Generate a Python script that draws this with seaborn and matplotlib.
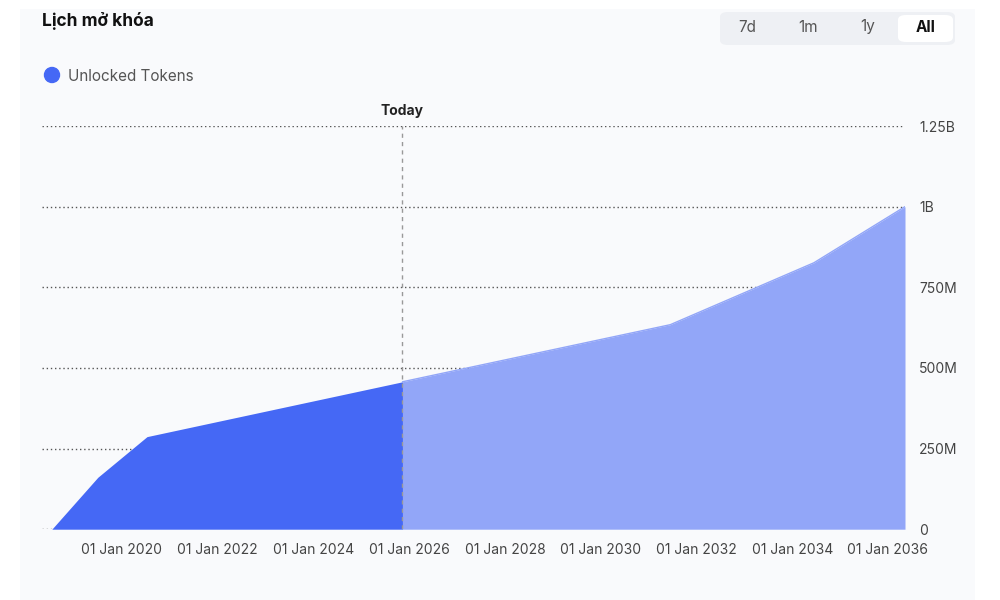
import matplotlib
matplotlib.use("Agg")
import matplotlib.pyplot as plt
import matplotlib.dates as mdates
import seaborn as sns
import pandas as pd
import numpy as np

dates = ["2018-07-15", "2019-07-01", "2020-07-10", "2025-11-10", "2031-06-15", "2034-06-15", "2036-05-10"]
unlocked = [0, 161e6, 287e6, 457e6, 634e6, 826e6, 1000e6]
today = "2025-11-10"
xtick_years = list(range(2020, 2037, 2))
ytick_vals = [0, 250e6, 500e6, 750e6, 1000e6, 1250e6]
ytick_labels = ["0", "250M", "500M", "750M", "1B", "1.25B"]

sns.set_theme(style="white")
plt.rcParams['font.family'] = ['Inter', 'DejaVu Sans']

df = pd.DataFrame({"date": pd.to_datetime(dates), "value": unlocked})
t = pd.Timestamp(today)
past = df[df.date <= t]
fut = df[df.date >= t]

fig = plt.figure(figsize=(10, 6), dpi=100)
fig.patch.set_facecolor("white")
bg = fig.add_axes([0.02, 0.0, 0.955, 0.985])
bg.set_facecolor("#f9fafc"); bg.set_xticks([]); bg.set_yticks([])
for s in bg.spines.values(): s.set_visible(False)

ax = fig.add_axes([0.042, 0.118, 0.863, 0.672])
ax.set_facecolor("#f9fafc")
ax.fill_between(past.date, past.value, color="#4568f5", lw=0)
ax.fill_between(fut.date, fut.value, color="#92a6f8", lw=0)
sns.lineplot(data=fut, x="date", y="value", ax=ax, color="#92a6f8", lw=1)
ax.axvline(t, color="#999999", ls=(0, (3, 3)), lw=1)
ax.text(t, 1.275e9, "Today", ha="center", va="bottom", fontsize=10, fontweight="bold", color="#222")

ax.set_ylim(0, 1.25e9)
ax.set_xlim(pd.Timestamp("2018-05-01"), pd.Timestamp("2036-05-10"))
ax.set_yticks(ytick_vals)
ax.set_yticklabels(ytick_labels)
ax.yaxis.tick_right()
ax.set_xticks([pd.Timestamp(f"{y}-01-01") for y in xtick_years])
ax.xaxis.set_major_formatter(mdates.DateFormatter("01 Jan %Y"))
ax.tick_params(axis="both", length=0, labelsize=10, colors="#444", pad=10)
ax.grid(axis="y", color="#555", ls=(0, (1, 2)), lw=1)
for s in ax.spines.values(): s.set_visible(False)
ax.set_xlabel(""); ax.set_ylabel("")

fig.text(0.042, 0.965, "Lịch mở khóa", fontsize=12.5, fontweight="bold", color="#111", va="center")
fig.patches.append(matplotlib.patches.FancyBboxPatch((0.72, 0.925), 0.235, 0.055, boxstyle="round,pad=0,rounding_size=0.008",
                   transform=fig.transFigure, facecolor="#eef0f4", edgecolor="none"))
fig.patches.append(matplotlib.patches.FancyBboxPatch((0.898, 0.93), 0.055, 0.045, boxstyle="round,pad=0,rounding_size=0.008",
                   transform=fig.transFigure, facecolor="white", edgecolor="none"))
for x, lab in zip([0.747, 0.808, 0.868, 0.926], ["7d", "1m", "1y", "All"]):
    fig.text(x, 0.955, lab, ha="center", va="center", fontsize=11,
             color="#111" if lab == "All" else "#555", fontweight="bold" if lab == "All" else "normal")
fig.patches.append(matplotlib.patches.Ellipse((0.052, 0.875), 0.015, 0.025, transform=fig.transFigure, color="#4568f5"))
fig.text(0.068, 0.873, "Unlocked Tokens", fontsize=11, color="#555", va="center")

fig.savefig("out.png", dpi=100)
